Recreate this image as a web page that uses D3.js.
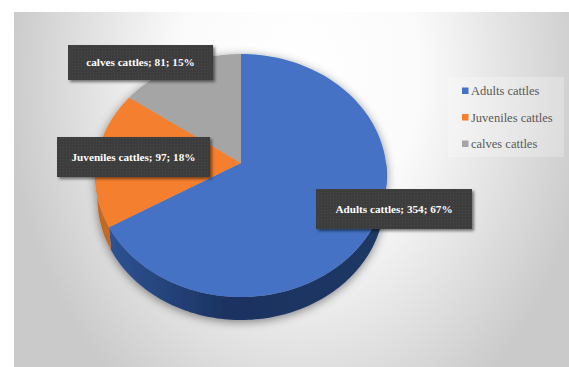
<!DOCTYPE html>
<html>
<head>
<meta charset="utf-8">
<script src="https://cdn.jsdelivr.net/npm/d3@7"></script>
<style>
  html, body { margin: 0; padding: 0; background: #fff; }
  svg { display: block; }
</style>
</head>
<body>
<svg id="chart" width="569" height="367"></svg>
<script>
const categories = ["Adults cattles", "Juveniles cattles", "calves cattles"];
const counts = [354, 97, 81];
const shares = ["67%", "18%", "15%"];
const topColors = ["#4472c4", "#f47f2e", "#a5a5a5"];
const sideStops = [
  ["#2f5597", "#1b3260", "#1f3864"],
  ["#c06a26", "#c06a26", "#c06a26"],
  ["#7c7c7c", "#7c7c7c", "#7c7c7c"]
];
const labelBoxes = [
  { x: [316, 472], y: [189, 229] },
  { x: [57, 210], y: [137, 177] },
  { x: [68, 213], y: [45, 80] }
];

const width = 569, height = 367;
const svg = d3.select("#chart");
const defs = svg.append("defs");

// Backdrop: light centre fading to grey at the edges
const bg = defs.append("radialGradient").attr("id", "backdrop")
  .attr("gradientUnits", "userSpaceOnUse")
  .attr("cx", 0).attr("cy", 0).attr("r", 1)
  .attr("gradientTransform", "translate(300,75) scale(300,400)");
[[0, "#ffffff"], [0.4, "#fbfbfb"], [0.7, "#e2e2e2"], [0.98, "#cacaca"]].forEach(([o, c]) =>
  bg.append("stop").attr("offset", o).attr("stop-color", c));

// Dotted weave on the dark label boxes
const weave = defs.append("pattern").attr("id", "weave")
  .attr("patternUnits", "userSpaceOnUse").attr("width", 3).attr("height", 3);
weave.append("rect").attr("width", 3).attr("height", 3).attr("fill", "#3d3d3d");
weave.append("rect").attr("width", 1).attr("height", 1).attr("fill", "#4a4a4a");

const boxShadow = defs.append("filter").attr("id", "boxShadow")
  .attr("x", "-10%").attr("y", "-20%").attr("width", "120%").attr("height", "150%");
boxShadow.append("feDropShadow").attr("dx", 2).attr("dy", 2).attr("stdDeviation", 1.6)
  .attr("flood-color", "#000").attr("flood-opacity", 0.5);

const pieShadow = defs.append("filter").attr("id", "pieShadow")
  .attr("x", "-15%").attr("y", "-15%").attr("width", "130%").attr("height", "130%");
pieShadow.append("feDropShadow").attr("dx", 0).attr("dy", 2).attr("stdDeviation", 5)
  .attr("flood-color", "#000").attr("flood-opacity", 0.45);

svg.append("rect").attr("x", 14).attr("y", 12)
  .attr("width", width - 14).attr("height", height - 12)
  .attr("fill", "url(#backdrop)");

// Tilted disc: the unit circle is projected with a mild perspective,
// so the apex sits above the centre of the visible ellipse.
const apex = [241, 163];
const perspective = -0.103;
const unitX = d3.scaleLinear().domain([-1, 1]).range([-145, 145]);
const unitY = d3.scaleLinear().domain([-1, 1]).range([-120.2, 120.2]);
const depth = 23;

function project(angle, radius, drop) {
  const u = radius * Math.sin(angle);
  const v = -radius * Math.cos(angle);
  const w = 1 + perspective * v;
  const shrink = drop ? 0.985 : 1;
  return [apex[0] + shrink * unitX(u) / w, apex[1] + unitY(v) / w + drop];
}

const slices = d3.pie().sort(null).value(d => d)(counts);
const outline = d3.line();
const rim = (a0, a1, drop) => d3.range(0, 1.0001, 1 / 120)
  .map(t => project(a0 + (a1 - a0) * t, 1, drop));

const pie = svg.append("g").attr("filter", "url(#pieShadow)");

// Side wall first, lower half of the rim only
const halfTurn = Math.PI / 2;
slices.forEach((s, i) => {
  const a0 = Math.max(s.startAngle, halfTurn);
  const a1 = Math.min(s.endAngle, 1.56 * Math.PI);
  if (a1 <= a0) return;
  const grad = defs.append("linearGradient").attr("id", "side" + i)
    .attr("gradientUnits", "userSpaceOnUse")
    .attr("x1", 100).attr("x2", 385).attr("y1", 0).attr("y2", 0);
  [0, 0.45, 1].forEach((o, k) => grad.append("stop").attr("offset", o).attr("stop-color", sideStops[i][k]));
  pie.append("path")
    .attr("d", outline(rim(a0, a1, 0).concat(rim(a0, a1, depth).reverse())) + "Z")
    .attr("fill", `url(#side${i})`);
});

// Top face
slices.forEach((s, i) => {
  pie.append("path")
    .attr("d", outline([project(0, 0, 0)].concat(rim(s.startAngle, s.endAngle, 0))) + "Z")
    .attr("fill", topColors[i]);
});

// Data labels
slices.forEach((s, i) => {
  const b = labelBoxes[i];
  svg.append("rect")
    .attr("x", b.x[0]).attr("y", b.y[0])
    .attr("width", b.x[1] - b.x[0]).attr("height", b.y[1] - b.y[0])
    .attr("fill", "url(#weave)").attr("filter", "url(#boxShadow)");
  svg.append("text")
    .attr("x", (b.x[0] + b.x[1]) / 2).attr("y", (b.y[0] + b.y[1]) / 2)
    .attr("dy", "0.35em").attr("text-anchor", "middle")
    .attr("font-family", "'Liberation Serif', serif").attr("font-weight", "bold")
    .attr("font-size", 11.2).attr("fill", "#fff")
    .text(`${categories[i]}; ${counts[i]}; ${shares[i]}`);
});

// Legend
svg.append("rect").attr("x", 448).attr("y", 77).attr("width", 116).attr("height", 80)
  .attr("fill", "#fff").attr("fill-opacity", 0.25);
const legendY = d3.scalePoint().domain(categories).range([91, 144]);
categories.forEach((c, i) => {
  svg.append("rect").attr("x", 462).attr("y", legendY(c) - 3.5).attr("width", 6.5).attr("height", 6.5)
    .attr("fill", topColors[i]);
  svg.append("text").attr("x", 471).attr("y", legendY(c)).attr("dy", "0.35em")
    .attr("font-family", "'Liberation Serif', serif").attr("font-size", 12.5)
    .attr("fill", "#595959").text(c);
});
</script>
</body>
</html>
